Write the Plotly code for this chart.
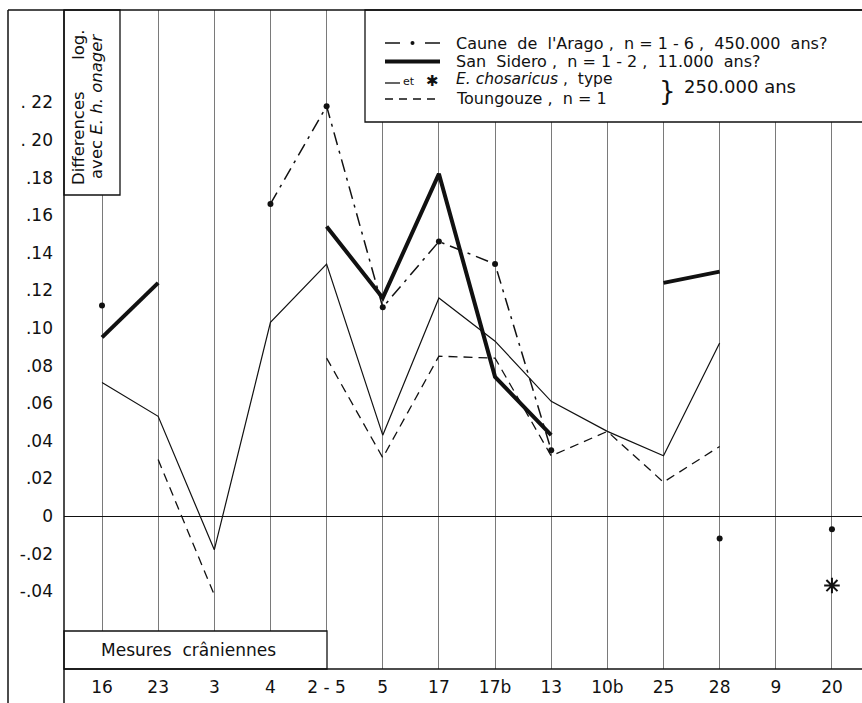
import plotly.graph_objects as go

# ---------------- data ----------------
categories = ["16", "23", "3", "4", "2-5", "5", "17", "17b", "13", "10b", "25", "28", "9", "20"]
tick_labels = ["16", "23", "3", "4", "2 - 5", "5", "17", "17b", "13", "10b", "25", "28", "9", "20"]

arago = [0.112, None, None, 0.166, 0.218, 0.111, 0.146, 0.134, 0.035, None, None, -0.012, None, -0.007]
san_sidero = [0.095, 0.124, None, None, 0.154, 0.116, 0.182, 0.074, 0.043, None, 0.124, 0.130, None, None]
chosaricus = [0.071, 0.053, -0.018, 0.103, 0.134, 0.043, 0.116, 0.093, 0.061, 0.045, 0.032, 0.092, None, -0.037]
toungouze = [None, 0.030, -0.042, None, 0.084, 0.031, 0.085, 0.084, 0.032, 0.045, 0.018, 0.037, None, None]

y_ticks = [0.22, 0.20, 0.18, 0.16, 0.14, 0.12, 0.10, 0.08, 0.06, 0.04, 0.02, 0.0, -0.02, -0.04]
y_tick_labels = [". 22", ". 20", ".18", ".16", ".14", ".12", ".10", ".08", ".06", ".04", ".02", "0", "-.02", "-.04"]

asterisk_cat = "20"

# ---------------- geometry helpers (layout only) ----------------
W, H = 862, 703
L, R, T, B = 64, 0, 10, 34
PW, PH = W - L - R, H - T - B


def px(x):
    return (x - L) / PW


def py(y):
    return (H - B - y) / PH


FONT = "DejaVu Sans"
INK = "#111111"

fig = go.Figure()

fig.add_trace(go.Scatter(
    x=categories, y=toungouze, mode="lines",
    line=dict(color=INK, width=1.3, dash="9px,6px"), connectgaps=False,
    name="Toungouze"))
fig.add_trace(go.Scatter(
    x=categories, y=chosaricus, mode="lines",
    line=dict(color=INK, width=1.2), connectgaps=False,
    name="E. chosaricus"))
fig.add_trace(go.Scatter(
    x=categories, y=arago, mode="lines+markers",
    line=dict(color=INK, width=1.5, dash="13px,6px,3px,6px"), connectgaps=False,
    marker=dict(color=INK, size=6, symbol="circle"),
    name="Caune de l'Arago"))
fig.add_trace(go.Scatter(
    x=categories, y=san_sidero, mode="lines",
    line=dict(color=INK, width=4), connectgaps=False,
    name="San Sidero"))
idx = categories.index(asterisk_cat)
fig.add_trace(go.Scatter(
    x=[categories[idx]], y=[chosaricus[idx]], mode="markers",
    marker=dict(symbol="asterisk-open", size=13, color=INK, line=dict(color=INK, width=2)),
    name="E. chosaricus type"))

# ---------------- frame and boxes ----------------
shapes = []


def seg(x0, y0, x1, y1, w=1.5, dash=None):
    d = dict(type="line", xref="paper", yref="paper",
             x0=px(x0), y0=py(y0), x1=px(x1), y1=py(y1),
             line=dict(color=INK, width=w), layer="above")
    if dash:
        d["line"]["dash"] = dash
    shapes.append(d)


def box(x0, y0, x1, y1):
    shapes.append(dict(type="rect", xref="paper", yref="paper",
                       x0=px(x0), y0=py(y1), x1=px(x1), y1=py(y0),
                       fillcolor="white", line=dict(color=INK, width=1.3), layer="above"))


box(64, 10, 120, 195)          # y title box
box(365, 10, 870, 122)         # legend box
box(64, 631, 327, 669)         # "Mesures crâniennes" box
seg(8, 10, 862, 10)            # top border
seg(8, 10, 8, 703)             # outer left border
seg(64, 10, 64, 703)           # inner left border
seg(64, 669, 862, 669)         # bottom line

# legend samples
ry = [43, 61.5, 80, 99]
seg(385, ry[0], 400, ry[0], 1.5)
shapes.append(dict(type="circle", xref="paper", yref="paper",
                   x0=px(410.5), x1=px(414.5), y0=py(ry[0] + 2), y1=py(ry[0] - 2),
                   fillcolor=INK, line=dict(color=INK, width=0), layer="above"))
seg(425, ry[0], 440, ry[0], 1.5)
seg(385, ry[1], 440, ry[1], 4)
seg(385, ry[2] + 3, 400, ry[2] + 3, 1.3)
seg(385, ry[3], 440, ry[3], 1.3, dash="8px,6px")

# ---------------- annotations ----------------
ann = []


def text(x, y, s, size=16, xanchor="left", angle=0):
    ann.append(dict(xref="paper", yref="paper", x=px(x), y=py(y), text=s,
                    showarrow=False, xanchor=xanchor, yanchor="middle",
                    textangle=angle, borderpad=0,
                    font=dict(family=FONT, size=size, color=INK)))


LS = 16
text(455, ry[0], "Caune  de  l'Arago ,  n = 1 - 6 ,  450.000  ans?", LS)
text(455, ry[1], "San  Sidero ,  n = 1 - 2 ,  11.000  ans?", LS)
text(455, ry[2] - 1, "<i>E. chosaricus</i> ,  type", 15.5)
text(455, ry[3], "Toungouze ,  n = 1", LS)
text(402, ry[2] + 1, "et", 11)
text(432, ry[2] + 1, "<b>✱</b>", 15, xanchor="center")
text(667, 91, "}", 26, xanchor="center")
text(683, 87, "250.000 ans", 18)

text(79, 107, "Differences      log.", 16.5, xanchor="center", angle=-90)
text(97, 107, "avec <i>E. h. onager</i>", 16.5, xanchor="center", angle=-90)
text(100, 650, "Mesures  crâniennes", 17)

fig.update_layout(
    width=W, height=H,
    margin=dict(l=L, r=R, t=T, b=B, pad=0),
    paper_bgcolor="white", plot_bgcolor="white",
    showlegend=False,
    shapes=shapes, annotations=ann,
    font=dict(family=FONT, color=INK),
    xaxis=dict(
        type="category", categoryorder="array", categoryarray=categories,
        range=[-(102 - L) / 56.15, -(102 - L) / 56.15 + PW / 56.15],
        tickmode="array", tickvals=categories, ticktext=tick_labels,
        showgrid=True, gridcolor="#7a7a7a", gridwidth=1,
        showline=False, ticks="", zeroline=False,
        tickfont=dict(family=FONT, size=17, color=INK),
        ticklabelstandoff=6,
    ),
    yaxis=dict(
        range=[-(H - B - 516) / 1880, (516 - T) / 1880],
        tickmode="array", tickvals=y_ticks, ticktext=y_tick_labels,
        showgrid=False, showline=False, ticks="",
        zeroline=True, zerolinecolor=INK, zerolinewidth=1.3,
        tickfont=dict(family=FONT, size=17, color=INK),
        ticklabelstandoff=10,
    ),
)

fig.write_html("out.html")
